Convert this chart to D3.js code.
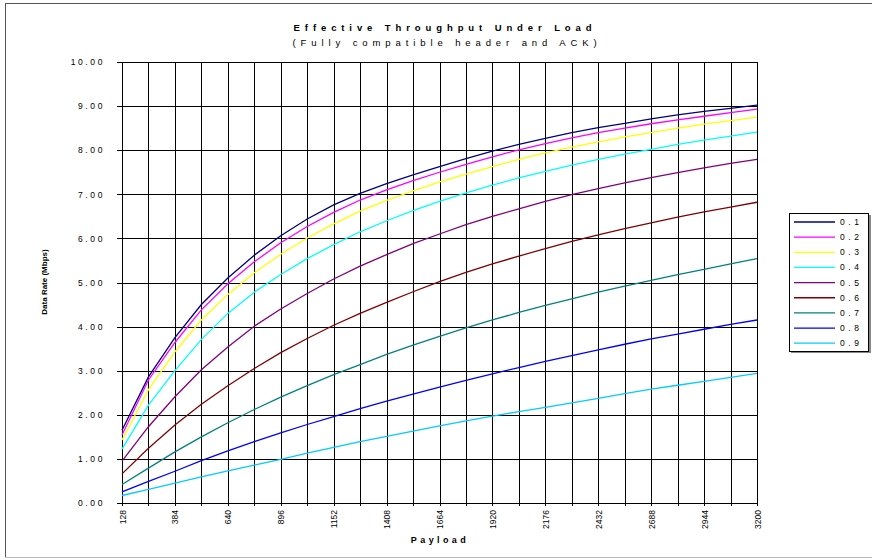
<!DOCTYPE html>
<html>
<head>
<meta charset="utf-8">
<script src="https://cdn.jsdelivr.net/npm/d3@7"></script>
<style>
  body { margin: 0; background: #fff; }
  svg { display: block; font-family: "Liberation Sans", Arial, sans-serif; }
  .spaced { letter-spacing: 2.6px; }
</style>
</head>
<body>
<svg id="chart" width="872" height="560"></svg>
<script>
const payloads = [128, 256, 384, 512, 640, 768, 896, 1024, 1152, 1280, 1408, 1536, 1664,
  1792, 1920, 2048, 2176, 2304, 2432, 2560, 2688, 2816, 2944, 3072, 3200];
const xTickLabels = [128, 384, 640, 896, 1152, 1408, 1664, 1920, 2176, 2432, 2688, 2944, 3200];
const yTicks = [0, 1, 2, 3, 4, 5, 6, 7, 8, 9, 10];
const seriesNames = ['0.1', '0.2', '0.3', '0.4', '0.5', '0.6', '0.7', '0.8', '0.9'];
const seriesColors = ['#000080', '#ff00ff', '#ffff00', '#00ffff', '#800080', '#800000', '#008080', '#0000ff', '#00ccff'];

const load01 = [1.65, 2.86, 3.75, 4.50, 5.10, 5.62, 6.06, 6.44, 6.76, 7.02, 7.24, 7.44, 7.63, 7.81, 7.98, 8.13, 8.27, 8.40, 8.51, 8.61, 8.71, 8.80, 8.88, 8.95, 9.02];
const load02 = [1.54, 2.79, 3.64, 4.38, 4.97, 5.47, 5.90, 6.27, 6.59, 6.87, 7.10, 7.31, 7.50, 7.68, 7.85, 8.01, 8.15, 8.28, 8.40, 8.50, 8.60, 8.69, 8.77, 8.85, 8.93];
const load03 = [1.43, 2.57, 3.43, 4.15, 4.73, 5.22, 5.64, 6.01, 6.33, 6.62, 6.86, 7.08, 7.28, 7.46, 7.63, 7.79, 7.94, 8.07, 8.19, 8.30, 8.40, 8.50, 8.59, 8.67, 8.75];
const load04 = [1.22, 2.22, 3.00, 3.71, 4.30, 4.78, 5.18, 5.54, 5.86, 6.15, 6.40, 6.63, 6.84, 7.03, 7.21, 7.37, 7.52, 7.66, 7.79, 7.91, 8.02, 8.13, 8.23, 8.32, 8.41];
const load05 = [0.95, 1.73, 2.41, 3.02, 3.54, 4.01, 4.40, 4.75, 5.08, 5.37, 5.63, 5.88, 6.10, 6.31, 6.50, 6.67, 6.84, 6.99, 7.13, 7.26, 7.38, 7.49, 7.60, 7.70, 7.79];
const load06 = [0.66, 1.24, 1.77, 2.24, 2.66, 3.05, 3.41, 3.73, 4.03, 4.30, 4.55, 4.79, 5.02, 5.23, 5.42, 5.60, 5.77, 5.93, 6.08, 6.22, 6.35, 6.48, 6.60, 6.71, 6.82];
const load07 = [0.42, 0.79, 1.16, 1.50, 1.82, 2.12, 2.40, 2.66, 2.91, 3.14, 3.37, 3.58, 3.78, 3.97, 4.15, 4.32, 4.48, 4.63, 4.78, 4.92, 5.05, 5.18, 5.30, 5.42, 5.54];
const load08 = [0.25, 0.49, 0.72, 0.96, 1.18, 1.39, 1.59, 1.78, 1.96, 2.14, 2.31, 2.47, 2.63, 2.78, 2.93, 3.07, 3.21, 3.34, 3.47, 3.60, 3.72, 3.83, 3.94, 4.05, 4.15];
const load09 = [0.17, 0.31, 0.45, 0.59, 0.73, 0.86, 0.99, 1.13, 1.26, 1.39, 1.51, 1.63, 1.75, 1.86, 1.97, 2.07, 2.17, 2.27, 2.37, 2.48, 2.58, 2.67, 2.76, 2.85, 2.94];
const seriesValues = [load01, load02, load03, load04, load05, load06, load07, load08, load09];

const svg = d3.select('#chart');
const plotLeft = 122, plotRight = 757, plotTop = 62, plotBottom = 503;

// outer frame
svg.append('line').attr('x1', 5).attr('x2', 872).attr('y1', 3.5).attr('y2', 3.5).attr('stroke', '#555');
svg.append('line').attr('x1', 5.5).attr('x2', 5.5).attr('y1', 3).attr('y2', 557).attr('stroke', '#555');
svg.append('line').attr('x1', 5).attr('x2', 872).attr('y1', 557.5).attr('y2', 557.5).attr('stroke', '#bbb');

const x = d3.scalePoint().domain(payloads).range([plotLeft, plotRight]);
const y = d3.scaleLinear().domain([0, 10]).range([plotBottom, plotTop]);

// grid
svg.append('g')
  .attr('transform', `translate(0,${plotBottom})`)
  .call(d3.axisBottom(x).tickSize(-(plotBottom - plotTop)).tickFormat(''))
  .call(g => g.select('.domain').remove())
  .call(g => g.selectAll('line').attr('stroke', '#000').attr('shape-rendering', 'crispEdges'));
svg.append('g')
  .attr('transform', `translate(${plotLeft},0)`)
  .call(d3.axisLeft(y).tickValues(yTicks).tickSize(-(plotRight - plotLeft)).tickFormat(''))
  .call(g => g.select('.domain').remove())
  .call(g => g.selectAll('line').attr('stroke', '#000').attr('shape-rendering', 'crispEdges'));

// axes
const yAxis = svg.append('g')
  .attr('transform', `translate(${plotLeft},0)`)
  .call(d3.axisLeft(y).tickValues(yTicks).tickFormat(d3.format('.2f')).tickSize(5).tickPadding(12));
yAxis.attr('font-family', null);
yAxis.selectAll('text').attr('class', 'spaced').attr('font-size', 8.5).attr('fill', '#000');
yAxis.selectAll('line, path').attr('stroke', '#000').attr('shape-rendering', 'crispEdges');

const xAxis = svg.append('g')
  .attr('transform', `translate(0,${plotBottom})`)
  .call(d3.axisBottom(x).tickSize(3).tickFormat(d => xTickLabels.includes(d) ? d : ''));
xAxis.attr('font-family', null);
xAxis.selectAll('line, path').attr('stroke', '#000').attr('shape-rendering', 'crispEdges');
xAxis.selectAll('text')
  .attr('font-size', 8.5).attr('fill', '#000')
  .attr('text-anchor', 'end')
  .attr('transform', 'rotate(-90)')
  .attr('x', -7).attr('y', 3).attr('dy', 0);

// right and top border
svg.append('line').attr('x1', plotLeft).attr('x2', plotRight).attr('y1', plotTop).attr('y2', plotTop)
  .attr('stroke', '#000').attr('shape-rendering', 'crispEdges');
svg.append('line').attr('x1', plotRight).attr('x2', plotRight).attr('y1', plotTop).attr('y2', plotBottom)
  .attr('stroke', '#000').attr('shape-rendering', 'crispEdges');

// series
const line = d3.line().x((d, i) => x(payloads[i])).y(d => y(d));
svg.append('g').selectAll('path')
  .data(seriesValues)
  .enter().append('path')
  .attr('d', line)
  .attr('fill', 'none')
  .attr('stroke', (d, i) => seriesColors[i])
  .attr('stroke-width', 1.3);

// titles
svg.append('text').attr('x', 445).attr('y', 31).attr('text-anchor', 'middle')
  .attr('font-size', 9.5).attr('font-weight', 'bold').style('letter-spacing', '4.9px')
  .text('Effective Throughput Under Load');
svg.append('text').attr('x', 447).attr('y', 46).attr('text-anchor', 'middle')
  .attr('font-size', 9.5).style('letter-spacing', '4.9px')
  .text('(Fully compatible header and ACK)');
svg.append('text').attr('x', 440).attr('y', 543).attr('text-anchor', 'middle')
  .attr('font-size', 9).attr('font-weight', 'bold').style('letter-spacing', '3.4px')
  .text('Payload');
svg.append('text').attr('transform', 'translate(47,282) rotate(-90)').attr('text-anchor', 'middle')
  .attr('font-size', 8).attr('font-weight', 'bold')
  .text('Data Rate (Mbps)');

// legend
const legend = svg.append('g');
legend.append('rect').attr('x', 791).attr('y', 215).attr('width', 80).attr('height', 138).attr('fill', '#888');
legend.append('rect').attr('x', 789.5).attr('y', 213.5).attr('width', 79).attr('height', 138)
  .attr('fill', '#fff').attr('stroke', '#000');
const item = legend.selectAll('g.item')
  .data(seriesNames)
  .enter().append('g')
  .attr('class', 'item')
  .attr('transform', (d, i) => `translate(0,${222 + i * 15.15})`);
item.append('line').attr('x1', 794).attr('x2', 835)
  .attr('stroke', (d, i) => seriesColors[i]).attr('stroke-width', 1.3);
item.append('text').attr('x', 840).attr('y', 3).attr('font-size', 8.5)
  .style('letter-spacing', '3.6px').text(d => d);
</script>
</body>
</html>
